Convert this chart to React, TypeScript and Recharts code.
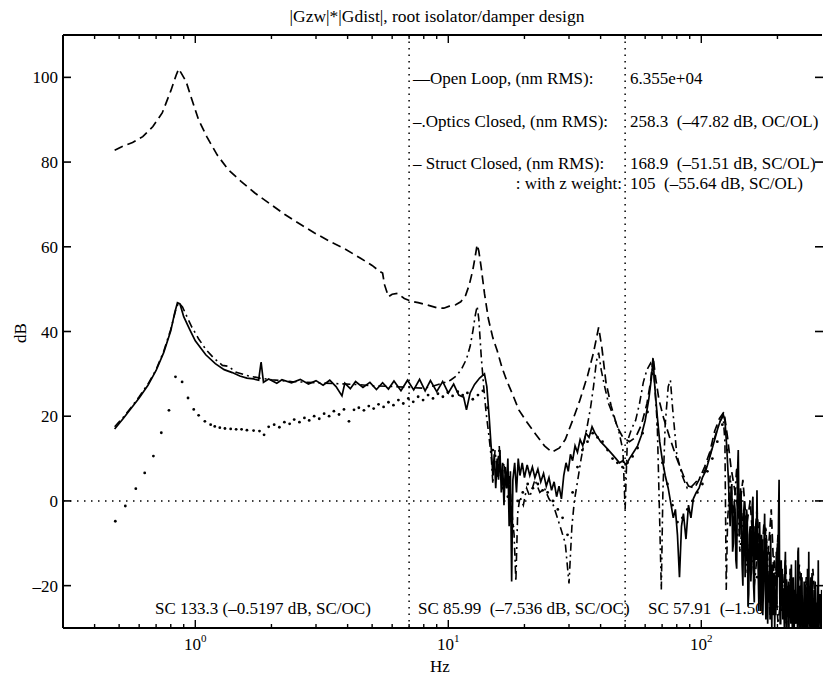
import React from 'react';
import { LineChart, Line, XAxis, YAxis, ReferenceLine } from 'recharts';

const W = 823;
const H = 677;
const FONT = '"Liberation Serif", "Times New Roman", serif';

const titleText = '|Gzw|*|Gdist|, root isolator/damper design';
const xMajorTicks = [1, 10, 100];
const xMinorTicks = [0.4, 0.5, 0.6, 0.7, 0.8, 0.9, 2, 3, 4, 5, 6, 7, 8, 9, 20, 30, 40, 50, 60, 70, 80, 90, 200];
const yTicks = [-20, 0, 20, 40, 60, 80, 100];
const markerLinesHz = [7, 50];

const legendLabels = ['\u2014Open Loop, (nm RMS):', '\u2013.Optics Closed, (nm RMS):', '\u2013 Struct Closed, (nm RMS):', ': with z weight:'];
const legendValues = ['6.355e+04', '258.3  (\u201347.82 dB, OC/OL)', '168.9  (\u201351.51 dB, SC/OL)', '105  (\u201355.64 dB, SC/OL)'];
const bottomNotes = ['SC 133.3 (\u20130.5197 dB, SC/OC)', 'SC 85.99  (\u20137.536 dB, SC/OC)', 'SC 57.91  (\u20131.50'];

// Open Loop (dashed)
const olFreq = [0.48, 0.52, 0.565, 0.62, 0.68, 0.74, 0.8, 0.84, 0.86, 0.88, 0.92, 0.97, 1.03, 1.11, 1.22, 1.35, 1.52, 1.72, 2.0, 2.26, 2.62, 2.95, 3.4, 3.9, 4.5, 5.0, 5.35, 5.5, 5.6, 5.8, 6.0, 6.3, 6.7, 7.1, 7.6, 8.2, 9.0, 9.6, 10.1, 10.7, 11.2, 11.7, 12.1, 12.5, 12.8, 13.0, 13.2, 13.5, 13.9, 14.4, 15.0, 15.6, 16.3, 17.0, 18.0, 19.0, 20.5, 22.0, 24.0, 25.7, 27.5, 29.0, 31.0, 33.0, 35.5, 37.5, 39.3, 40.5, 42.0, 44.0, 46.5, 49.0, 52.0, 55.0, 58.0, 61.0, 63.0, 64.5, 66.0, 68.0, 71.0, 75.0, 80.0, 85.0, 89.0, 94.0, 98.0, 103.0, 108.0, 113.0, 118.0, 123.0, 127.0, 131.0, 136.0, 141.0, 146.0, 151.0, 156.0, 161.0, 166.0, 172.0, 177.0, 183.0, 189.0, 195.0, 201.0, 208.0, 215.0, 222.0, 229.0, 236.0, 244.0, 252.0, 260.0, 268.0, 276.0, 285.0, 295.0];
const olDb = [82.8, 83.8, 84.6, 86.0, 88.4, 91.6, 96.8, 100.5, 102.0, 101.0, 99.0, 94.7, 90.0, 86.0, 81.7, 78.2, 75.4, 72.7, 69.9, 67.6, 65.2, 63.3, 61.3, 59.5, 57.3, 55.6, 54.2, 53.8, 51.0, 48.2, 48.8, 49.0, 47.8, 47.2, 46.8, 46.3, 45.6, 45.5, 46.0, 46.3, 47.0, 48.5, 51.0, 54.5, 58.0, 60.5, 59.0, 55.0, 49.0, 43.0, 38.5, 35.5, 31.5, 28.5, 25.0, 21.5, 18.5, 16.0, 13.0, 11.5, 12.5, 14.5, 19.0, 23.5, 29.5, 35.0, 41.0, 36.0, 28.0, 22.5, 17.5, 15.0, 14.0, 15.0, 18.0, 23.0, 28.0, 34.0, 29.0, 24.0, 19.5, 15.0, 10.0, 6.0, 3.5, 3.0, 5.0, 8.0, 11.5, 16.5, 19.5, 21.0, 15.0, 8.0, 2.0, -3.0, 5.0, -6.0, 0.0, -12.0, -2.0, -16.0, -5.0, -14.0, -2.0, -22.0, -8.0, -26.0, -14.0, -28.0, -18.0, -29.0, -15.0, -27.0, -19.0, -30.0, -16.0, -28.0, -22.0];

// Optics Closed (dash-dot)
const ocFreq = [0.48, 0.52, 0.56, 0.6, 0.65, 0.7, 0.75, 0.8, 0.84, 0.86, 0.89, 0.93, 0.97, 1.03, 1.1, 1.18, 1.28, 1.35, 1.45, 1.6, 1.8, 2.0, 2.4, 3.0, 3.6, 4.3, 5.0, 6.0, 7.0, 8.0, 8.8, 9.5, 10.2, 10.8, 11.3, 11.8, 12.2, 12.5, 12.8, 13.0, 13.2, 13.5, 13.8, 14.1, 14.5, 14.8, 15.0, 15.3, 15.6, 15.9, 16.2, 16.6, 17.0, 17.4, 17.8, 18.2, 18.5, 18.8, 19.2, 19.8, 20.4, 21.0, 22.0, 23.0, 24.0, 25.0, 26.0, 27.0, 28.0, 29.0, 30.0, 30.8, 31.5, 32.5, 33.5, 35.0, 36.5, 37.5, 38.5, 39.3, 40.2, 41.5, 43.0, 45.0, 47.0, 49.0, 50.0, 51.0, 53.0, 55.0, 57.0, 59.0, 61.0, 63.0, 65.0, 67.0, 68.5, 69.5, 70.5, 72.0, 74.0, 75.5, 77.0, 80.0, 84.0, 88.0, 92.0, 97.0, 103.0, 108.0, 113.0, 118.0, 122.0, 124.0, 125.5, 127.0, 130.0, 134.0, 138.0, 142.0, 147.0, 152.0, 157.0, 162.0, 168.0, 174.0, 180.0, 187.0, 194.0, 201.0, 209.0, 217.0, 225.0, 233.0, 242.0, 251.0, 260.0, 270.0, 280.0, 290.0];
const ocDb = [17.5, 19.8, 22.2, 24.6, 27.6, 31.0, 35.3, 40.5, 45.5, 46.8, 45.8, 43.3, 41.0, 38.3, 35.8, 33.8, 32.0, 31.8, 30.4, 29.6, 29.0, 28.6, 28.2, 27.9, 27.7, 27.5, 27.2, 27.0, 26.8, 26.6, 27.2, 27.8, 28.5, 29.6, 31.2, 33.5, 36.5, 40.0, 44.0, 46.0, 43.0, 34.0, 27.0, 21.0, 15.0, 10.0, 4.0, 12.0, 7.0, 13.0, 5.0, 9.0, 3.0, 6.0, -2.0, -8.0, -19.0, -3.0, 1.0, -1.0, 3.0, 1.0, 5.0, 2.0, 3.0, 0.5, -1.0, -4.0, -7.0, -10.0, -19.5, -6.0, 0.0, 5.0, 10.0, 16.0, 22.0, 27.0, 33.0, 35.0, 31.0, 27.0, 23.0, 20.0, 17.0, 12.0, -2.0, 14.0, 17.0, 19.0, 23.0, 28.0, 31.0, 32.5, 30.0, 18.0, -5.0, -21.0, 2.0, 18.0, 27.0, 28.5, 22.0, 11.0, 6.0, 3.0, 3.5, 5.0, 7.0, 10.5, 15.0, 18.5, 20.0, 14.0, -21.0, -5.0, 6.0, -4.0, 8.0, -12.0, -2.0, -17.0, -6.0, -20.0, -10.0, -23.0, -6.0, -27.0, -13.0, -29.0, -20.0, -30.0, -16.0, -28.0, -22.0, -30.0, -18.0, -29.0, -23.0, -30.0];

// Struct Closed (solid), up to 128 Hz
const scFreq = [0.48, 0.52, 0.56, 0.6, 0.65, 0.7, 0.75, 0.8, 0.83, 0.85, 0.87, 0.9, 0.95, 1.0, 1.1, 1.2, 1.3, 1.4, 1.5, 1.6, 1.7, 1.78, 1.82, 1.86, 1.95, 2.1, 2.2, 2.4, 2.6, 2.8, 3.0, 3.2, 3.4, 3.6, 3.8, 3.9, 4.1, 4.3, 4.6, 4.9, 5.2, 5.5, 5.8, 6.1, 6.5, 6.9, 7.3, 7.7, 8.1, 8.5, 9.0, 9.5, 10.0, 10.5, 11.0, 11.5, 11.8, 12.2, 12.7, 13.3, 13.9, 14.2, 14.5, 14.8, 15.0, 15.2, 15.4, 15.6, 15.8, 16.0, 16.2, 16.4, 16.6, 16.8, 17.0, 17.2, 17.4, 17.6, 17.8, 18.0, 18.3, 18.6, 18.9, 19.2, 19.6, 20.0, 20.5, 21.0, 21.5, 22.0, 22.6, 23.2, 23.8, 24.4, 25.0, 25.6, 26.2, 26.8, 27.4, 28.0, 28.6, 29.2, 29.8, 30.4, 31.0, 31.7, 32.4, 33.2, 34.0, 35.0, 36.0, 37.0, 38.0, 39.0, 40.0, 41.5, 43.0, 44.5, 46.0, 47.5, 49.0, 50.5, 52.0, 54.0, 56.0, 58.0, 60.0, 62.0, 63.5, 64.5, 65.5, 67.0, 68.5, 70.0, 72.0, 74.0, 76.0, 77.5, 79.0, 80.5, 82.0, 83.5, 85.0, 87.0, 89.0, 91.0, 93.0, 95.5, 98.0, 101.0, 104.0, 107.0, 110.0, 113.0, 116.0, 119.0, 122.0, 124.0, 126.0, 128.0];
const scDb = [17.0, 19.5, 22.0, 24.3, 27.3, 30.8, 35.0, 40.2, 44.5, 46.8, 46.5, 43.5, 40.5, 37.8, 34.5, 32.4, 31.0, 30.3, 29.5, 29.0, 28.8, 28.5, 32.8, 28.0, 28.8, 27.8, 28.6, 27.9, 28.7, 27.6, 28.4, 27.3, 28.5, 27.0, 24.8, 27.8, 26.5, 28.2, 26.8, 28.0, 26.3, 27.9, 26.4, 28.3, 26.0, 28.5, 26.2, 28.7, 26.0, 28.4, 25.8, 28.2, 25.5, 27.6, 25.0, 24.5, 21.5, 25.5, 27.5, 29.0, 30.0, 27.0, 20.0, 12.0, 6.0, 11.0, 3.0, 10.0, 5.0, 12.0, 2.0, 9.0, -1.0, 8.0, 3.0, 10.0, -6.0, 7.0, -19.0, 5.0, 9.0, 2.0, 10.0, 6.0, 9.0, 5.5, 8.5, 6.0, 8.0, 5.5, 7.5, 4.5, 6.5, 3.5, 5.5, 2.5, 4.5, 1.0, 3.5, 0.5, 6.0, 9.0, 7.0, 11.0, 9.5, 13.0, 11.5, 14.5, 13.0, 16.0, 15.0, 17.5, 16.0, 15.0, 14.0, 13.0, 12.0, 11.0, 10.0, 9.0, 9.5, 8.5, 10.0, 11.5, 13.0, 15.5, 19.0, 24.0, 29.0, 33.5, 27.0, 20.0, 14.0, 10.0, 6.0, 3.0, -1.0, -4.0, -2.0, -8.0, -18.0, -6.0, -3.0, -9.0, -1.0, -4.0, 0.5, 2.0, 3.0, 5.5, 7.0, 9.5, 12.0, 14.5, 17.0, 19.0, 20.5, 19.0, 13.0, 5.0];

// Struct Closed (solid), dense noisy tail 130-299 Hz
const scTailFreq = [130, 131, 132, 133, 134, 135, 136, 137, 138, 139, 140, 141, 142, 143, 144, 145, 146, 147, 148, 149, 150, 151, 152, 153, 154, 155, 156, 157, 158, 159, 160, 161, 162, 163, 164, 165, 166, 167, 168, 169, 170, 171, 172, 173, 174, 175, 176, 177, 178, 179, 180, 181, 182, 183, 184, 185, 186, 187, 188, 189, 190, 191, 192, 193, 194, 195, 196, 197, 198, 199, 200, 201, 202, 203, 204, 205, 206, 207, 208, 209, 210, 211, 212, 213, 214, 215, 216, 217, 218, 219, 220, 221, 222, 223, 224, 225, 226, 227, 228, 229, 230, 231, 232, 233, 234, 235, 236, 237, 238, 239, 240, 241, 242, 243, 244, 245, 246, 247, 248, 249, 250, 251, 252, 253, 254, 255, 256, 257, 258, 259, 260, 261, 262, 263, 264, 265, 266, 267, 268, 269, 270, 271, 272, 273, 274, 275, 276, 277, 278, 279, 280, 281, 282, 283, 284, 285, 286, 287, 288, 289, 290, 291, 292, 293, 294, 295, 296, 297, 298, 299];
const scTailDb = [-6, 2, 4, -12, -10, 0, -2, -14, -16, 6, 12, -4, -8, 3, -1, -15, -20, -3, 0, -18, -12, -2, -4, -25, -22, -8, -6, -19, -15, -1, 1, -20, -24, -6, -9, -14, 2.5, -10, -18, -26, -5, -12, -26, -8, -11, -27, -21, -10, -3, -20, -28, -9, -14, -29, -18, -24, -12, -28, -8, -22, -30, -15, -27, -19, -17, -30, -22, -27, -12, -25, -10, -18, -4, 5, -20, -29, -29, -14, -24, -16, -28, -21, -25, -30, -17, -12, -26, -30, -30, -20, -27, -19, -30, -24, -27, -16, -29, -15, -25, -30, -30, -18, -26, -30, -21, -28, -14, -29, -28, -22, -30, -12, -11, -25, -30, -20, -26, -30, -17, -28, -18, -30, -24, -29, -30, -19, -27, -30, -20, -25, -30, -22, -28, -16, -30, -26, -12, -29, -22, -30, -25, -18, -30, -27, -17, -30, -23, -29, -30, -21, -28, -30, -19, -26, -30, -24, -27, -30, -20, -29, -14, -30, -25, -28, -22, -24, -30, -26, -30, -21];

// With z weight (dotted markers)
const zwFreq = [0.483, 0.529, 0.582, 0.631, 0.683, 0.734, 0.787, 0.835, 0.887, 0.936, 0.986, 1.031, 1.091, 1.15, 1.194, 1.25, 1.31, 1.38, 1.45, 1.524, 1.6, 1.7, 1.794, 1.87, 1.95, 2.05, 2.15, 2.25, 2.36, 2.46, 2.58, 2.7, 2.82, 2.95, 3.09, 3.23, 3.38, 3.53, 3.7, 3.87, 4.05, 4.24, 4.43, 4.64, 4.85, 5.07, 5.3, 5.55, 5.8, 6.07, 6.35, 6.64, 6.95, 7.27, 7.6, 7.95, 8.32, 8.7, 9.1, 9.52, 9.96, 10.4, 10.9, 11.4, 11.9, 12.5, 13.1, 13.7, 14.3, 15.0, 15.7, 16.4, 17.2, 18.0, 18.8, 19.7, 20.6, 21.6, 22.6, 23.6, 24.7, 25.9, 27.1, 28.3, 29.6, 31.0, 32.4, 33.9, 35.5, 37.2, 38.9, 40.7, 42.6, 44.6, 46.6, 48.8, 51.1, 53.5, 56.0, 58.6, 61.3, 64.1, 67.1, 70.2, 73.5, 76.9, 80.5, 84.2, 88.1, 92.2, 96.5, 101.0, 105.7, 110.6, 115.7, 121.1, 126.7, 132.6, 138.8, 145.2, 152.0, 159.0, 166.4, 174.1, 182.2, 190.6, 199.5, 208.7, 218.4, 228.5, 239.1, 250.2, 261.8, 274.0, 286.7];
const zwDb = [-4.8, -1.2, 2.9, 6.6, 10.6, 16.1, 21.4, 29.3, 28.1, 24.3, 21.6, 20.2, 18.8, 18.0, 17.6, 17.3, 17.1, 17.0, 16.9, 16.9, 16.7, 16.6, 16.5, 15.6, 17.5, 18.0, 17.4, 18.6, 18.2, 19.2, 18.6, 19.6, 19.0, 20.0, 19.4, 20.6, 20.0, 21.2, 20.4, 21.6, 18.8, 21.5, 22.0, 21.4, 22.4, 21.8, 22.8, 22.2, 23.3, 22.6, 23.8, 23.0, 24.2, 23.4, 24.6, 23.8, 25.0, 24.2, 25.3, 24.6, 25.6, 24.8, 25.8, 25.0, 25.5, 24.0, 25.0, 26.0, 22.0, 12.0, 6.0, 3.0, 1.0, -6.0, 0.0, 2.0, 4.0, 3.0, 4.0, 2.5, 2.0, 0.0, -2.0, -4.0, -8.0, 2.0, 8.0, 12.0, 14.0, 16.0, 15.0, 14.0, 12.0, 10.0, 9.0, 8.0, 9.0, 10.5, 12.5, 16.0, 21.0, 30.0, 18.0, 9.0, 4.0, -1.0, -5.0, -4.0, -2.0, 0.0, 2.0, 4.0, 7.0, 10.0, 14.0, 18.0, 12.0, -2.0, -8.0, -4.0, -14.0, -9.0, -18.0, -12.0, -22.0, -16.0, -25.0, -20.0, -27.0, -22.0, -28.0, -24.0, -29.0, -25.0, -28.0];

const toPoints = (freq: number[], db: number[]) => freq.map((f, i) => ({ f, db: db[i] }));
const olData = toPoints(olFreq, olDb);
const ocData = toPoints(ocFreq, ocDb);
const scData = [...toPoints(scFreq, scDb), ...toPoints(scTailFreq, scTailDb)];
const zwData = toPoints(zwFreq, zwDb);

const allXTicks = [...xMinorTicks, ...xMajorTicks].sort((a, b) => a - b);
const isMajor = (v: number) => xMajorTicks.includes(v);

const BottomTick = (props: any) => {
  const { x, y, payload } = props;
  const v = payload.value;
  const major = isMajor(v);
  const exp = Math.round(Math.log10(v));
  return (
    <g>
      <line x1={x} x2={x} y1={y} y2={y - (major ? 8 : 4)} stroke="#000" strokeWidth={1.4} />
      {major && (
        <text x={x} y={y + 22} textAnchor="middle" fontFamily={FONT} fontSize={17} fill="#000">
          10<tspan dy={-8} fontSize={11}>{exp}</tspan>
        </text>
      )}
    </g>
  );
};

const TopTick = (props: any) => {
  const { x, y, payload } = props;
  const major = isMajor(payload.value);
  return <line x1={x} x2={x} y1={y} y2={y + (major ? 8 : 4)} stroke="#000" strokeWidth={1.4} />;
};

const LeftTick = (props: any) => {
  const { x, y, payload } = props;
  const v = payload.value;
  return (
    <g>
      <line x1={x} x2={x + 8} y1={y} y2={y} stroke="#000" strokeWidth={1.6} />
      <text x={x - 5} y={y + 6} textAnchor="end" fontFamily={FONT} fontSize={17} fill="#000">
        {v < 0 ? '\u2013' + Math.abs(v) : String(v)}
      </text>
    </g>
  );
};

const RightTick = (props: any) => {
  const { x, y } = props;
  return <line x1={x + 1} x2={x - 7} y1={y} y2={y} stroke="#000" strokeWidth={1.6} />;
};

const textStyle: React.CSSProperties = { whiteSpace: 'pre' };

export default function App() {
  const legendY = [84, 127, 169, 189];
  return (
    <div style={{ position: 'fixed', left: 0, top: 0, width: W, height: H, overflow: 'hidden', background: '#fff' }}>
      <svg width={W} height={H} style={{ position: 'absolute', left: 0, top: 0 }}>
        <text x={437} y={22} textAnchor="middle" fontFamily={FONT} fontSize={17.5} fill="#000">{titleText}</text>
        {legendLabels.map((t, i) => (
          <text key={'l' + i} x={i === 3 ? 622 : 413} y={legendY[i]} textAnchor={i === 3 ? 'end' : 'start'} fontFamily={FONT} fontSize={17} fill="#000" style={textStyle}>{t}</text>
        ))}
        {legendValues.map((t, i) => (
          <text key={'v' + i} x={630} y={legendY[i]} fontFamily={FONT} fontSize={17} fill="#000" style={textStyle}>{t}</text>
        ))}
        <text x={155} y={614} fontFamily={FONT} fontSize={17} fill="#000" style={textStyle}>{bottomNotes[0]}</text>
        <text x={418} y={614} fontFamily={FONT} fontSize={17} fill="#000" style={textStyle}>{bottomNotes[1]}</text>
        <text x={648} y={614} fontFamily={FONT} fontSize={17} fill="#000" style={textStyle}>{bottomNotes[2]}</text>
        <text x={440} y={672} textAnchor="middle" fontFamily={FONT} fontSize={17} fill="#000">Hz</text>
        <text x={0} y={0} transform="translate(26,333) rotate(-90)" textAnchor="middle" fontFamily={FONT} fontSize={17} fill="#000">dB</text>
      </svg>
      <div style={{ position: 'absolute', left: 0, top: 0 }}>
        <LineChart width={W} height={H} margin={{ top: 34, left: 62, right: 0, bottom: 48 }}>
          <XAxis xAxisId="b" type="number" dataKey="f" scale="log" domain={[0.3, 300]} allowDataOverflow ticks={allXTicks} interval={0} tick={<BottomTick />} tickSize={0} tickMargin={0} tickLine={false} height={1} axisLine={{ stroke: '#000', strokeWidth: 2 }} />
          <XAxis xAxisId="t" orientation="top" type="number" dataKey="f" scale="log" domain={[0.3, 300]} allowDataOverflow ticks={allXTicks} interval={0} tick={<TopTick />} tickSize={0} tickMargin={0} tickLine={false} height={1} axisLine={{ stroke: '#000', strokeWidth: 2 }} />
          <YAxis yAxisId="l" type="number" domain={[-30, 110]} allowDataOverflow ticks={yTicks} interval={0} tick={<LeftTick />} tickSize={0} tickMargin={0} tickLine={false} width={1} axisLine={{ stroke: '#000', strokeWidth: 2 }} />
          <YAxis yAxisId="r" orientation="right" type="number" domain={[-30, 110]} allowDataOverflow ticks={yTicks} interval={0} tick={<RightTick />} tickSize={0} tickMargin={0} tickLine={false} width={1} axisLine={false} />
          <ReferenceLine xAxisId="b" yAxisId="l" y={0} stroke="#000" strokeWidth={1.5} strokeDasharray="1.5 5.5" />
          {markerLinesHz.map((hz) => (
            <ReferenceLine key={hz} xAxisId="b" yAxisId="l" x={hz} stroke="#000" strokeWidth={1.5} strokeDasharray="1.5 5" />
          ))}
          <Line xAxisId="b" yAxisId="l" data={olData} dataKey="db" type="linear" stroke="#000" strokeWidth={1.7} strokeDasharray="9 5" dot={false} activeDot={false} isAnimationActive={false} />
          <Line xAxisId="b" yAxisId="l" data={ocData} dataKey="db" type="linear" stroke="#000" strokeWidth={1.6} strokeDasharray="8 4 2 4" dot={false} activeDot={false} isAnimationActive={false} />
          <Line xAxisId="b" yAxisId="l" data={scData} dataKey="db" type="linear" stroke="#000" strokeWidth={1.7} dot={false} activeDot={false} isAnimationActive={false} />
          <Line xAxisId="b" yAxisId="l" data={zwData} dataKey="db" type="linear" stroke="none" strokeWidth={0} dot={{ r: 1.4, fill: '#000', stroke: 'none' }} activeDot={false} isAnimationActive={false} />
        </LineChart>
      </div>
    </div>
  );
}
